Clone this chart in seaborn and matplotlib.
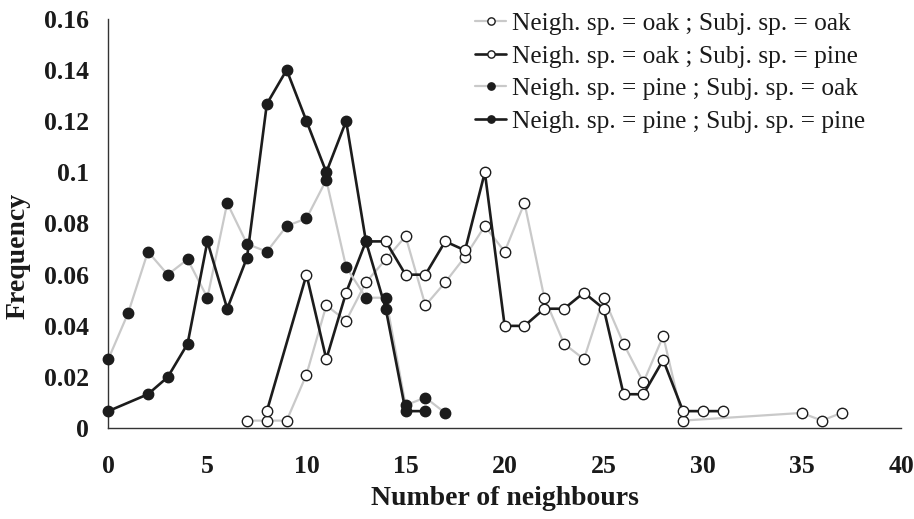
import numpy as np
import pandas as pd
import matplotlib
matplotlib.use("Agg")
import matplotlib.pyplot as plt
import seaborn as sns

# ---- data ----
oak_oak_x = [7, 8, 9, 10, 11, 12, 13, 14, 15, 16, 17, 18, 19, 20, 21, 22, 23, 24, 25, 26, 27, 28, 29, 35, 36, 37]
oak_oak_y = [0.003, 0.003, 0.003, 0.021, 0.048, 0.042, 0.057, 0.066, 0.075, 0.048, 0.057, 0.067, 0.079,
             0.069, 0.088, 0.051, 0.033, 0.027, 0.051, 0.033, 0.018, 0.036, 0.003, 0.006, 0.003, 0.006]

oak_pine_x = [8, 10, 11, 12, 13, 14, 15, 16, 17, 18, 19, 20, 21, 22, 23, 24, 25, 26, 27, 28, 29, 30, 31]
oak_pine_y = [0.0067, 0.060, 0.027, 0.053, 0.073, 0.073, 0.060, 0.060, 0.073, 0.0695, 0.100, 0.040,
              0.040, 0.0467, 0.0467, 0.053, 0.0467, 0.0133, 0.0133, 0.0267, 0.0067, 0.0067, 0.0067]

pine_oak_x = [0, 1, 2, 3, 4, 5, 6, 7, 8, 9, 10, 11, 12, 13, 14, 15, 16, 17]
pine_oak_y = [0.027, 0.045, 0.069, 0.060, 0.066, 0.051, 0.088, 0.072, 0.069, 0.079, 0.082, 0.097,
              0.063, 0.051, 0.051, 0.009, 0.012, 0.006]

pine_pine_x = [0, 2, 3, 4, 5, 6, 7, 8, 9, 10, 11, 12, 13, 14, 15, 16]
pine_pine_y = [0.0067, 0.0133, 0.020, 0.033, 0.073, 0.0467, 0.0667, 0.1267, 0.140, 0.120, 0.100,
               0.120, 0.073, 0.0467, 0.0067, 0.0067]

labels = ["Neigh. sp. = oak ; Subj. sp. = oak",
          "Neigh. sp. = oak ; Subj. sp. = pine",
          "Neigh. sp. = pine ; Subj. sp. = oak",
          "Neigh. sp. = pine ; Subj. sp. = pine"]

x_ticks = [0, 5, 10, 15, 20, 25, 30, 35, 40]
y_ticks = [0, 0.02, 0.04, 0.06, 0.08, 0.1, 0.12, 0.14, 0.16]
y_tick_labels = ["0", "0.02", "0.04", "0.06", "0.08", "0.1", "0.12", "0.14", "0.16"]

# ---- style ----
sns.set_style("white")
plt.rcParams["font.family"] = ["Liberation Serif", "DejaVu Serif"]

GRAY = "#c9c9c9"
BLACK = "#1c1c1c"

fig = plt.figure(figsize=(9.14, 5.19), dpi=100)
ax = fig.add_axes([0.1185, 0.1748, 0.8673, 0.7892])

series = [
    (oak_oak_x, oak_oak_y, GRAY, "white", 1.6),
    (oak_pine_x, oak_pine_y, BLACK, "white", 1.9),
    (pine_oak_x, pine_oak_y, GRAY, BLACK, 1.6),
    (pine_pine_x, pine_pine_y, BLACK, BLACK, 1.9),
]
order = [0, 2, 1, 3]  # gray lines beneath black ones

for i in order:
    xs, ys, lc, fc, lw = series[i]
    df = pd.DataFrame({"x": xs, "y": ys})
    sns.lineplot(data=df, x="x", y="y", ax=ax, color=lc, linewidth=lw,
                 marker="o", markersize=7.5, markerfacecolor=fc,
                 markeredgecolor=BLACK, markeredgewidth=1.0,
                 label=labels[i], zorder=3 + i, clip_on=False)

ax.set_xlim(0, 40)
ax.set_ylim(0, 0.16)
ax.set_xticks(x_ticks)
ax.set_xticklabels([str(t) for t in x_ticks])
ax.set_yticks(y_ticks)
ax.set_yticklabels(y_tick_labels)

for side in ["top", "right"]:
    ax.spines[side].set_visible(False)
for side in ["left", "bottom"]:
    ax.spines[side].set_color("#333333")
    ax.spines[side].set_linewidth(1.0)

ax.tick_params(axis="both", direction="out", length=6, width=1.0, color="#333333",
               labelsize=18.5, labelcolor="#1a1a1a")
ax.tick_params(axis="x", pad=13)
ax.tick_params(axis="y", pad=8)
for t in ax.get_xticklabels() + ax.get_yticklabels():
    t.set_fontweight("bold")

ax.set_xlabel("Number of neighbours", fontsize=20, fontweight="bold", color="#1a1a1a")
ax.set_ylabel("Frequency", fontsize=20, fontweight="bold", color="#1a1a1a")
ax.xaxis.set_label_coords(0.5, -0.14)
ax.yaxis.set_label_coords(-0.098, 0.42)

handles, labs = ax.get_legend_handles_labels()
lookup = dict(zip(labs, handles))
leg = ax.legend([lookup[l] for l in labels], labels, loc="upper left",
                bbox_to_anchor=(0.52, 0.976), bbox_transform=fig.transFigure,
                frameon=False, fontsize=18.3, handlelength=1.2, handletextpad=0.25,
                labelspacing=0.38, markerscale=0.7, borderaxespad=0, borderpad=0)
for t in leg.get_texts():
    t.set_color("#1a1a1a")

fig.savefig("out.png", dpi=100)
